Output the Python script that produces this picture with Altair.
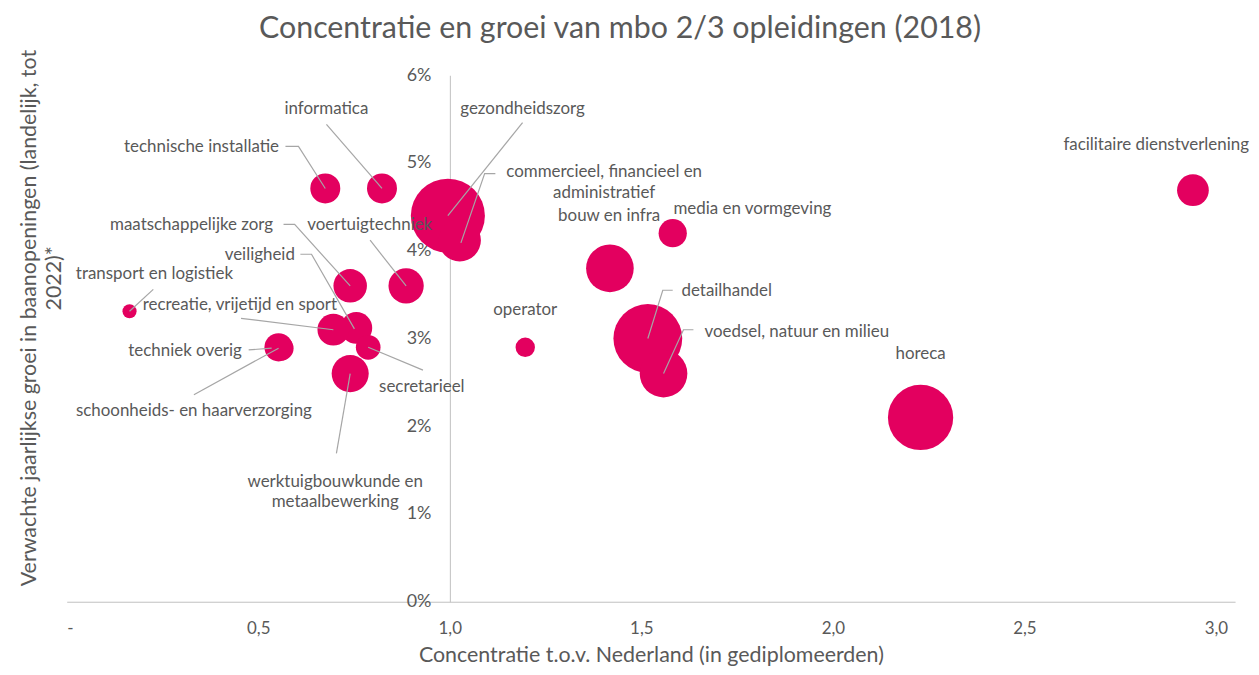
import altair as alt
import pandas as pd

# ---- data ----
opleidingen = [
    "technische installatie", "informatica", "gezondheidszorg",
    "commercieel, financieel en\nadministratief", "voertuigtechniek",
    "maatschappelijke zorg", "veiligheid", "recreatie, vrijetijd en sport",
    "secretarieel", "werktuigbouwkunde en\nmetaalbewerking", "techniek overig",
    "schoonheids- en haarverzorging", "transport en logistiek", "operator",
    "bouw en infra", "media en vormgeving", "detailhandel",
    "voedsel, natuur en milieu", "horeca", "facilitaire dienstverlening",
]
concentratie = [0.675, 0.823, 0.995, 1.026, 0.886, 0.740, 0.756, 0.696, 0.787, 0.740,
                0.553, 0.560, 0.164, 1.197, 1.418, 1.582, 1.517, 1.558, 2.229, 2.940]
groei = [4.71, 4.71, 4.40, 4.12, 3.60, 3.60, 3.12, 3.10, 2.90, 2.60,
         2.90, 2.89, 3.31, 2.90, 3.80, 4.20, 3.00, 2.60, 2.10, 4.69]
gediplomeerden = [2890, 2890, 17640, 5760, 4000, 3610, 3240, 3240, 1960, 4410,
                  2560, 1960, 640, 1210, 7290, 2560, 15210, 7290, 13690, 3240]

# label anchor positions (data units)
label_x = [0.352, 0.678, 1.190, 1.403, 0.791, 0.326, 0.504, 0.452, 0.927, 0.701,
           0.309, 0.332, 0.229, 1.197, 1.416, 1.790, 1.723, 1.906, 2.229, 2.844]
label_y = [5.18, 5.61, 5.61, 4.90, 4.29, 4.29, 3.95, 3.38, 2.45, 1.37,
           2.86, 2.17, 3.73, 3.33, 4.40, 4.48, 3.54, 3.07, 2.82, 5.21]

# leader lines (data units)
leader_names = ["techinst", "informatica", "gezond", "commercieel", "voertuig",
                "maatsch", "veiligheid", "transport", "recreatie", "techniek",
                "schoonheid", "secretarieel", "werktuig", "detail", "voedsel"]
leader_xs = [[0.571, 0.605, 0.675], [0.678, 0.823], [1.190, 0.995],
             [1.119, 1.091, 1.029], [0.792, 0.886], [0.566, 0.595, 0.740],
             [0.610, 0.639, 0.751], [0.226, 0.164], [0.455, 0.696],
             [0.475, 0.535], [0.332, 0.553], [0.930, 0.787], [0.704, 0.740],
             [1.582, 1.556, 1.517], [1.636, 1.610, 1.558]]
leader_ys = [[5.19, 5.19, 4.71], [5.44, 4.71], [5.46, 4.40],
             [4.88, 4.88, 4.09], [4.12, 3.60], [4.30, 4.30, 3.60],
             [3.96, 3.96, 3.11], [3.56, 3.31], [3.23, 3.10],
             [2.87, 2.89], [2.36, 2.89], [2.64, 2.90], [1.69, 2.60],
             [3.55, 3.55, 3.00], [3.10, 3.10, 2.60]]

x_ticks = [0, 0.5, 1.0, 1.5, 2.0, 2.5, 3.0]
y_ticks = [0, 1, 2, 3, 4, 5, 6]

# ---- build tables ----
bubbles = pd.DataFrame({"naam": opleidingen, "x": concentratie, "y": groei,
                        "n": gediplomeerden})
labels = pd.DataFrame({"naam": opleidingen, "x": label_x, "y": label_y})
rows = []
for name, xs, ys in zip(leader_names, leader_xs, leader_ys):
    for i, (a, b) in enumerate(zip(xs, ys)):
        rows.append({"leader": name, "seq": i, "x": a, "y": b})
leaders = pd.DataFrame(rows)

FONT = "Lato"
TXT = "#595959"
PINK = "#E3005F"
GRAY = "#A6A6A6"
W, H = 1174, 529
XMAX = 3.05

xscale = alt.Scale(domain=[0, XMAX], nice=False, zero=False)
yscale = alt.Scale(domain=[0, 6], nice=False)
xaxis = alt.Axis(values=x_ticks, grid=False, ticks=False, domainColor="#BFBFBF",
                 labelExpr="datum.value == 0 ? '-' : replace(format(datum.value, '.1f'), '.', ',')",
                 labelFont=FONT, labelFontSize=17, labelColor=TXT, labelPadding=19,
                 title="Concentratie t.o.v. Nederland (in gediplomeerden)",
                 titleFont=FONT, titleFontSize=21.5, titleFontWeight="normal",
                 titleColor=TXT, titlePadding=8)
yaxis = alt.Axis(values=y_ticks, grid=False, ticks=False, domainColor="#BFBFBF",
                 offset=-round(W / XMAX), labelExpr="datum.value + '%'",
                 labelFont=FONT, labelFontSize=18, labelColor=TXT, labelPadding=19,
                 title=None)

X = alt.X("x:Q", scale=xscale, axis=xaxis)
Y = alt.Y("y:Q", scale=yscale, axis=yaxis)

bub = alt.Chart(bubbles).mark_circle(color=PINK, opacity=1).encode(
    x=X, y=Y,
    size=alt.Size("n:Q", scale=alt.Scale(domain=[0, 17640], range=[0, 5542]), legend=None),
)

lead = alt.Chart(leaders).mark_line(color=GRAY, strokeWidth=1.2).encode(
    x=X, y=Y, detail="leader:N", order="seq:O"
)

lab = alt.Chart(labels).mark_text(font=FONT, fontSize=17, color=TXT, align="center",
                                  baseline="middle", lineBreak="\n", lineHeight=21).encode(
    x=X, y=Y, text="naam:N"
)

title = alt.Chart(pd.DataFrame({"t": ["Concentratie en groei van mbo 2/3 opleidingen (2018)"]})).mark_text(
    font=FONT, fontSize=30.5, color=TXT, align="center", baseline="middle"
).encode(x=alt.value(556), y=alt.value(-46), text="t:N")

ytitle1 = alt.Chart(pd.DataFrame({"t": ["Verwachte jaarlijkse groei in baanopeningen (landelijk, tot"]})).mark_text(
    font=FONT, fontSize=21.5, color=TXT, align="center", baseline="middle", angle=270
).encode(x=alt.value(-37), y=alt.value(244), text="t:N")

ytitle2 = alt.Chart(pd.DataFrame({"t": ["2022)*"]})).mark_text(
    font=FONT, fontSize=21.5, color=TXT, align="center", baseline="middle", angle=270
).encode(x=alt.value(-12), y=alt.value(204), text="t:N")

chart = alt.layer(bub, lead, lab, title, ytitle1, ytitle2).properties(
    width=W, height=H,
    padding={"left": 59, "top": 66, "right": 16, "bottom": 70},
    autosize=alt.AutoSizeParams(type="none"),
    background="white",
).configure_view(stroke=None)

chart.save("out.html", embed_options={"renderer": "svg", "actions": False})
